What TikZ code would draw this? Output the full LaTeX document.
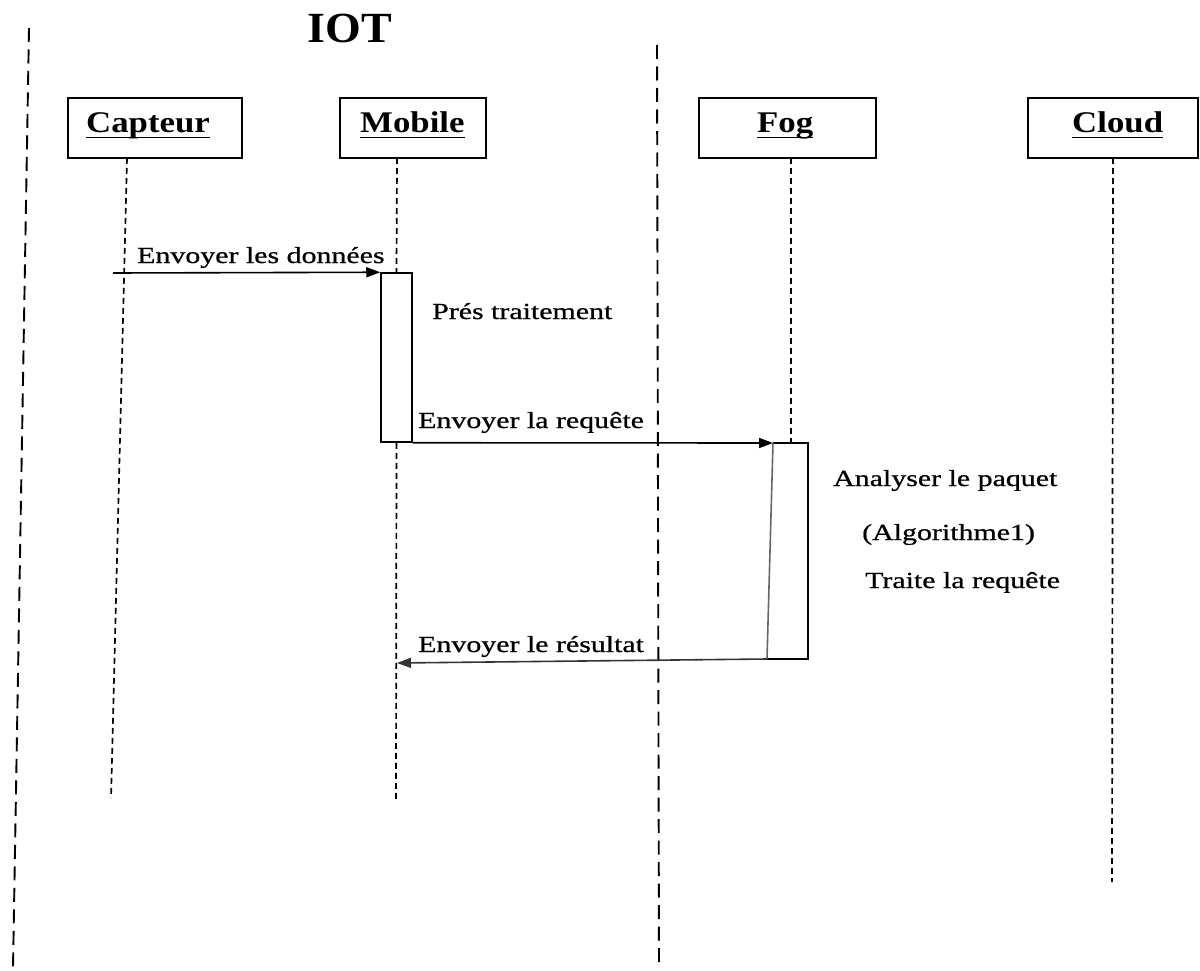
\documentclass[tikz,border=0pt]{standalone}
\usepackage{fontspec}
\usetikzlibrary{arrows.meta}
\setmainfont{Liberation Serif}
\newfontfamily\lblfont[FakeStretch=1.3,FakeBold=0.8]{Liberation Serif}
\newfontfamily\hdrfont[FakeStretch=1.16]{Liberation Serif}
\newfontfamily\ttlfont[FakeStretch=1.07]{Liberation Serif}
% underlined participant name, rule just under the baseline
\newcommand\hdrline[1]{\setbox0\hbox{#1}\rlap{\rule[-5.5pt]{\wd0}{1.6pt}}\box0}

\begin{document}
\begin{tikzpicture}[x=1pt,y=-1pt,
  actor/.style={draw, line width=1.5pt, minimum width=#1, minimum height=60pt, inner sep=0pt},
  hdr/.style={anchor=base west, inner sep=0pt, font=\hdrfont\bfseries\fontsize{30}{36}\selectfont},
  lbl/.style={anchor=base west, inner sep=0pt, font=\lblfont\fontsize{23}{28}\selectfont},
  lifeline/.style={line width=1.7pt, dash pattern=on 6pt off 4pt},
  sep/.style={line width=1.9pt, dash pattern=on 14pt off 7.5pt},
  msg/.style={line width=1.6pt, -{Triangle[length=14pt,width=10pt]}},
  actbox/.style={draw, line width=1.5pt, fill=white, inner sep=0pt}]

\useasboundingbox (0,0) rectangle (1200,971);

% zone separators
\coordinate (sepLt) at (29,28);
\coordinate (sepLb) at (13,968);
\coordinate (sepMt) at (657,45);
\coordinate (sepMb) at (659,968);
\draw[sep] (sepLt) -- (sepLb);
\draw[sep] (sepMt) -- (sepMb);

% title
\node[anchor=base, inner sep=0pt, font=\ttlfont\bfseries\fontsize{43}{50}\selectfont] (iot) at (350,43) {IOT};

% participants
\node[actor=174pt] (capteur) at (155,128) {};
\node[actor=146pt] (mobile)  at (413,128) {};
\node[actor=177pt] (fog)     at (787.5,128) {};
\node[actor=170pt] (cloud)   at (1113,128) {};
\node[hdr] (capteurL) at (86,133)   {\hdrline{Capteur}};
\node[hdr] (mobileL)  at (360,133)  {\hdrline{Mobile}};
\node[hdr] (fogL)     at (757,133)  {\hdrline{Fog}};
\node[hdr] (cloudL)   at (1072,133) {\hdrline{Cloud}};

% lifeline anchors
\coordinate (capT) at (127,158);
\coordinate (capB) at (111,798);
\coordinate (mobT) at (397,158);
\coordinate (mobB) at (396,800);
\coordinate (fogT) at (791,158);
\coordinate (cldT) at (1113,158);
\coordinate (cldB) at (1112,882);

% activation on the mobile
\node[actbox, minimum width=31pt, minimum height=169pt] (actM) at (396.5,357.5) {};

% activation on the fog node
\coordinate (fogTL) at (773,443);
\coordinate (fogTR) at (808,443);
\coordinate (fogBR) at (808,659);
\coordinate (fogBL) at (767,659);

% lifelines
\draw[lifeline] (capT) -- (capB);
\draw[lifeline] (mobT) -- (actM.north);
\draw[lifeline] (actM.south) -- (mobB);
\draw[lifeline] (fogT) -- (fogTL -| fogT);
\draw[lifeline] (cldT) -- (cldB);

\draw[line width=1.5pt] (fogTL) -- (fogTR) -- (fogBR) -- (fogBL);
\draw[line width=1.6pt, black!60] (fogBL) -- (fogTL);

% messages
\coordinate (m1s) at (113,273);
\coordinate (m3e) at (397,663);
\draw[msg] (m1s) -- (actM.north west);
\draw[msg] (actM.south east) -- (fogTL);
\draw[msg, black!80] (fogBL) -- (m3e);

% labels
\node[lbl] (l1) at (137,263) {Envoyer les données};
\node[lbl] (l2) at (432,319) {Prés traitement};
\node[lbl] (l3) at (418,428) {Envoyer la requête};
\node[lbl] (l4) at (833,486) {Analyser le paquet};
\node[lbl] (l5) at (862,540) {(Algorithme1)};
\node[lbl] (l6) at (865,588) {Traite la requête};
\node[lbl] (l7) at (418,652) {Envoyer le résultat};

\end{tikzpicture}
\end{document}
